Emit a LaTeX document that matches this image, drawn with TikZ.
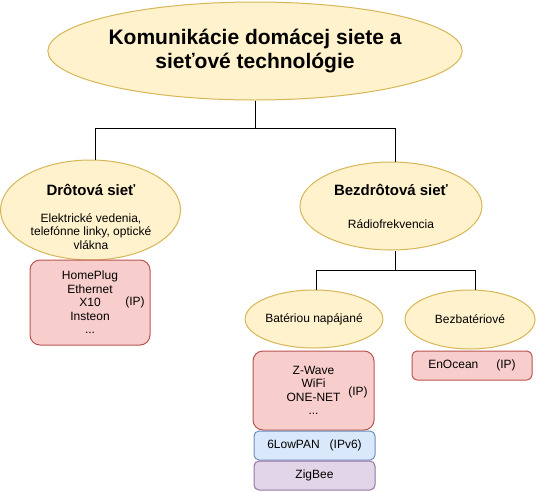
\documentclass[tikz,border=0pt]{standalone}
\usepackage{fontspec}
\setmainfont{Liberation Sans}
\usetikzlibrary{shapes.geometric}
\definecolor{zlta}{HTML}{FFF2CC}
\definecolor{zltaokraj}{HTML}{D6B656}
\definecolor{cervena}{HTML}{F8CECC}
\definecolor{cervenaokraj}{HTML}{B85450}
\definecolor{modra}{HTML}{DAE8FC}
\definecolor{modraokraj}{HTML}{6C8EBF}
\definecolor{fialova}{HTML}{E1D5E7}
\definecolor{fialovaokraj}{HTML}{9673A6}

\begin{document}
\begin{tikzpicture}[x=1pt,y=-1pt,line width=1pt,
	elipsa/.style={ellipse,draw=zltaokraj,fill=zlta,inner sep=0pt},
	blok/.style={rectangle,rounded corners=10pt,draw=cervenaokraj,fill=cervena,inner sep=0pt},
	malyblok/.style={blok,rounded corners=5pt,minimum width=121,minimum height=29},
	popis/.style={align=center,font=\fontsize{12}{13.5}\selectfont}]

%\draw[help lines] (0,0) grid[step=50] (536,491);
	\useasboundingbox (0,0) rectangle (536,491);%okraje

	\node [elipsa, minimum width=370, minimum height=98, align=center, font=\bfseries\fontsize{21}{24}\selectfont] (koren) at (255,51) {Komunikácie domácej siete a\\ sieťové technológie};%hlavna elipsa

	\node [elipsa, minimum width=180, minimum height=100] (drot) at (90.5,210) {};%drotova siet
	\node [popis, inner sep=0pt] (drottxt) at (91,217) {{\bfseries\fontsize{15}{18}\selectfont Drôtová sieť}\\[13pt] Elektrické vedenia,\\ telefónne linky, optické\\ vlákna};
	\node [elipsa, popis, minimum width=182, minimum height=88] (bezdrot) at (391,206) {{\bfseries\fontsize{15}{18}\selectfont Bezdrôtová sieť}\\[19.5pt] Rádiofrekvencia};%bezdrotova siet

	\node [elipsa, popis, minimum width=132, minimum height=58] (bat) at (314,319) {Batériou napájané};
	\node [elipsa, popis, minimum width=130, minimum height=59] (bezbat) at (470,319.5) {Bezbatériové};

	\node [blok, popis, minimum width=120, minimum height=85] (hp) at (90,302.5) {HomePlug\\ Ethernet\\ X10\\ Insteon\\ ...};%drotove technologie
	\node [popis] (hpip) at (135,302) {(IP)};
	\node [blok, popis, minimum width=121, minimum height=79] (zw) at (313.5,390.5) {Z-Wave\\ WiFi\\ ONE-NET\\ ...};
	\node [popis] (zwip) at (358,392) {(IP)};
	\node [malyblok, popis, draw=modraokraj, fill=modra] (lowpan) at (314.5,445.5) {6LowPAN\hspace{10pt}(IPv6)};
	\node [malyblok, popis, draw=fialovaokraj, fill=fialova] (zig) at (314.5,475.5) {ZigBee};
	\node [malyblok, popis, minimum width=120] (eno) at (472,365.5) {EnOcean\hspace{18pt}(IP)};

	\coordinate (j1) at (255,128.5);%rozvetvenie
	\draw (koren.south) -- (j1);
	\draw ([xshift=4.5pt]drot.north) |- (j1) -| ([xshift=4.5pt]bezdrot.north);
	\coordinate (j2) at (395.5,270.7);
	\draw ([xshift=4.5pt]bezdrot.south) -- (j2);
	\draw ([xshift=2pt]bat.north) |- (j2) -| ([xshift=5pt]bezbat.north);

\end{tikzpicture}
\end{document}
